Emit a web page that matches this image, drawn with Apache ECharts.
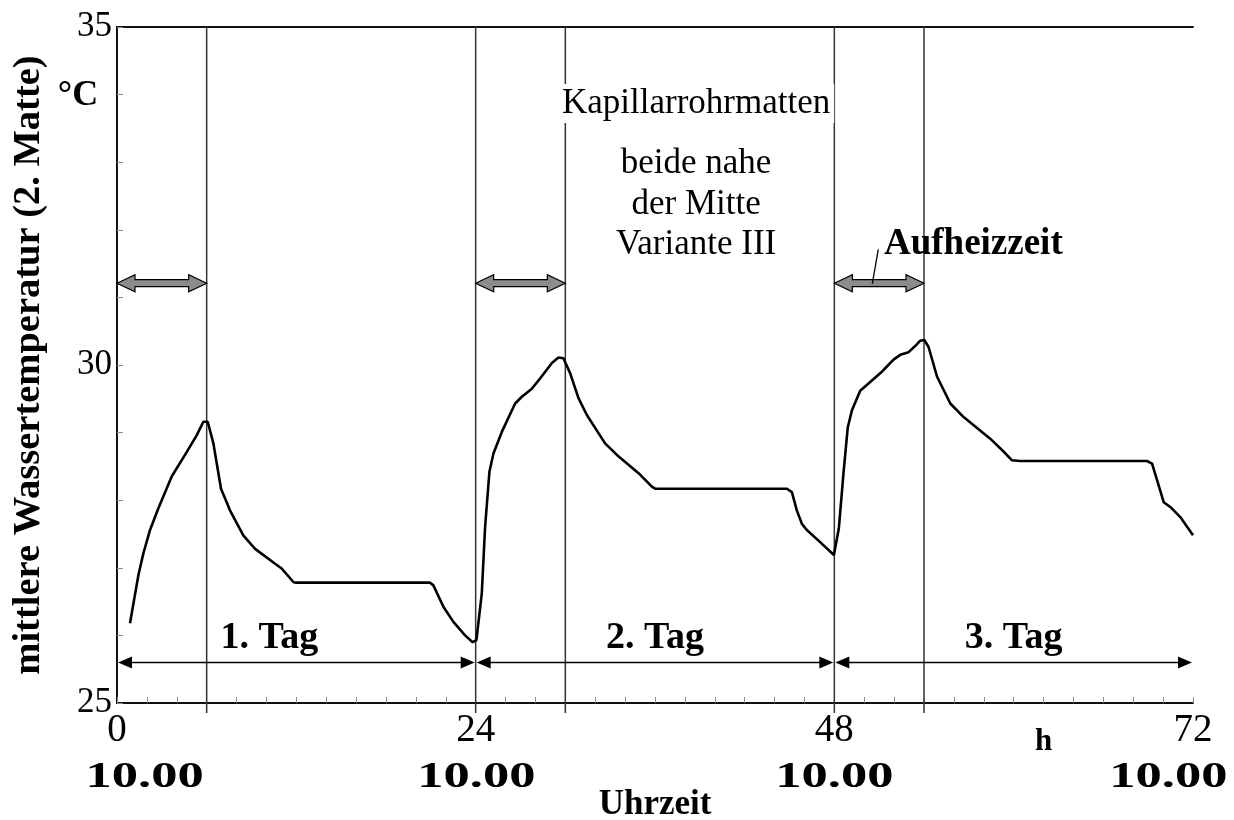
<!DOCTYPE html>
<html>
<head>
<meta charset="utf-8">
<script src="https://cdn.jsdelivr.net/npm/echarts@6/dist/echarts.min.js"></script>
<style>
  html, body { margin: 0; padding: 0; background: #fff; }
  #chart { width: 1234px; height: 820px; }
</style>
</head>
<body>
<div id="chart"></div>
<script>
// Mittlere Wassertemperatur der 2. Matte über drei Tage (Stunden ab 10.00 Uhr)
const hours = [
  0.87, 1.43, 1.76, 2.21, 2.77, 3.66, 4.55, 5.33, 5.78, 6.07, 6.45, 6.96, 7.56, 8.45, 9.24,
  10.58, 11.02, 11.8, 11.95, 20.95, 21.17, 21.85, 22.51, 23.29, 23.8, 24.05, 24.41, 24.63,
  24.92, 25.19, 25.75, 26.64, 27.09, 27.76, 28.31, 29.1, 29.54, 29.87, 30.32, 30.88, 31.44,
  32.66, 33.45, 34.9, 35.79, 36.01, 44.83, 45.16, 45.49, 45.83, 46.16, 47.05, 47.97, 48.3,
  48.62, 48.9, 49.18, 49.73, 50.4, 51.18, 51.96, 52.41, 52.97, 53.41, 53.75, 54.02, 54.3,
  54.87, 55.76, 56.65, 58.43, 59.32, 59.89, 60.44, 68.92, 69.26, 69.59, 70.04, 70.48,
  71.15, 72.0
];
const temps = [
  26.18, 26.89, 27.21, 27.56, 27.88, 28.35, 28.67, 28.96, 29.16, 29.16, 28.84, 28.17, 27.85, 27.48, 27.28,
  27.06, 26.99, 26.79, 26.78, 26.78, 26.74, 26.42, 26.2, 26.0, 25.9, 25.93, 26.62, 27.6,
  28.42, 28.69, 29.01, 29.43, 29.53, 29.65, 29.8, 30.03, 30.11, 30.1, 29.88, 29.51, 29.26,
  28.84, 28.67, 28.4, 28.2, 28.17, 28.17, 28.12, 27.85, 27.65, 27.56, 27.38, 27.19, 27.58,
  28.42, 29.08, 29.33, 29.62, 29.75, 29.9, 30.08, 30.15, 30.19, 30.28, 30.36, 30.37, 30.27,
  29.83, 29.43, 29.23, 28.91, 28.72, 28.59, 28.58, 28.58, 28.54, 28.3, 27.97, 27.9,
  27.75, 27.48
];

// Achsen und Beschriftungen
const xTickLabels = [0, 24, 48, 72];
const yTickLabels = [25, 30, 35];
const clockLabels = ['10.00', '10.00', '10.00', '10.00'];
const clockHours = [1.85, 24.05, 48, 70.35];

// Markierungslinien, Aufheizzeiten und Tage
const markerHours = [6, 24, 30, 48, 54];
const heatStarts = [0, 24, 48];
const heatEnds = [6, 30, 54];
const heatLevel = 31.21;
const dayStarts = [0, 24, 48];
const dayEnds = [24, 48, 72];
const dayLevel = 25.6;
const dayNames = ['1. Tag', '2. Tag', '3. Tag'];
const dayNameHours = [10.2, 36.0, 60.0];
const dayNameLevel = 25.96;

const noteLines = ['Kapillarrohrmatten', 'beide nahe', 'der Mitte', 'Variante III'];
const noteHour = 38.75;
const noteLevels = [33.87, 32.97, 32.37, 31.78];

const SERIF = '"Liberation Serif", "DejaVu Serif", serif';

const chart = echarts.init(document.getElementById('chart'), null, { renderer: 'canvas' });

function doubleBlockArrow(params, api) {
  const a = api.coord([api.value(0), api.value(2)]);
  const b = api.coord([api.value(1), api.value(2)]);
  const y = a[1], x1 = a[0], x2 = b[0];
  const L = 18, H = 8.5, h = 3.5;
  return {
    type: 'polygon',
    shape: { points: [
      [x1, y], [x1 + L, y - H], [x1 + L, y - h], [x2 - L, y - h], [x2 - L, y - H],
      [x2, y], [x2 - L, y + H], [x2 - L, y + h], [x1 + L, y + h], [x1 + L, y + H]
    ] },
    style: { fill: '#8c8c8c', stroke: '#000', lineWidth: 1.2 }
  };
}

function doubleLineArrow(params, api) {
  const a = api.coord([api.value(0), api.value(2)]);
  const b = api.coord([api.value(1), api.value(2)]);
  const y = a[1], x1 = a[0] + 1, x2 = b[0] - 1;
  const L = 14, H = 6;
  return {
    type: 'group',
    children: [
      { type: 'line', shape: { x1: x1 + 4, y1: y, x2: x2 - 4, y2: y }, style: { stroke: '#000', lineWidth: 1.6 } },
      { type: 'polygon', shape: { points: [[x1, y], [x1 + L, y - H], [x1 + L, y + H]] }, style: { fill: '#000' } },
      { type: 'polygon', shape: { points: [[x2, y], [x2 - L, y - H], [x2 - L, y + H]] }, style: { fill: '#000' } }
    ]
  };
}

const option = {
  backgroundColor: '#fff',
  animation: false,
  grid: { left: 117, right: 41, top: 27, bottom: 117, containLabel: false, outerBoundsMode: 'none' },
  xAxis: [
    {
      type: 'value', min: 0, max: 72, interval: 2,
      axisLine: { lineStyle: { color: '#111', width: 2 } },
      axisTick: { inside: true, length: 6, lineStyle: { color: '#888', width: 1 } },
      axisLabel: {
        color: '#000', fontFamily: SERIF, fontSize: 39, margin: 8,
        formatter: v => (xTickLabels.indexOf(v) >= 0 ? String(v) : '')
      },
      splitLine: { show: false },
      name: 'Uhrzeit', nameLocation: 'middle', nameGap: 84,
      nameTextStyle: { color: '#000', fontFamily: SERIF, fontWeight: 'bold', fontSize: 35 }
    },
    {
      type: 'value', min: 0, max: 72, position: 'top',
      axisLine: { show: true, lineStyle: { color: '#111', width: 2 } },
      axisTick: { show: false }, axisLabel: { show: false }, splitLine: { show: false }
    }
  ],
  yAxis: [
    {
      type: 'value', min: 25, max: 35, interval: 1,
      axisLine: { show: true, lineStyle: { color: '#111', width: 2 } },
      axisTick: { show: true, inside: true, length: 6, lineStyle: { color: '#888', width: 1 } },
      axisLabel: {
        color: '#000', fontFamily: SERIF, fontSize: 35, margin: 5,
        formatter: v => (yTickLabels.indexOf(v) >= 0 ? String(v) : '')
      },
      splitLine: { show: false },
      name: 'mittlere Wassertemperatur (2. Matte)', nameLocation: 'middle', nameGap: 68,
      nameTextStyle: { color: '#000', fontFamily: SERIF, fontWeight: 'bold', fontSize: 38.5 }
    },
    {
      type: 'value', min: 25, max: 35, position: 'right',
      axisLine: { show: true, lineStyle: { color: '#111', width: 2 } },
      axisTick: { show: false }, axisLabel: { show: false }, splitLine: { show: false }
    }
  ],
  series: [
    {
      // senkrechte Linien bei Aufheizbeginn/-ende, etwas unter die Achse verlängert
      type: 'custom', clip: false, silent: true,
      data: markerHours.map(h => [h]),
      renderItem: (params, api) => {
        const top = api.coord([api.value(0), 35]);
        const bot = api.coord([api.value(0), 25]);
        return {
          type: 'line',
          shape: { x1: top[0], y1: top[1], x2: bot[0], y2: bot[1] + 10 },
          style: { stroke: '#333', lineWidth: 1.5 }
        };
      },
      z: 1
    },
    {
      type: 'custom', clip: false, silent: true,
      data: heatStarts.map((s, i) => [s, heatEnds[i], heatLevel]),
      renderItem: doubleBlockArrow, z: 3
    },
    {
      type: 'custom', clip: false, silent: true,
      data: dayStarts.map((s, i) => [s, dayEnds[i], dayLevel]),
      renderItem: doubleLineArrow, z: 3
    },
    {
      type: 'line', symbol: 'none', smooth: false,
      data: hours.map((h, i) => [h, temps[i]]),
      lineStyle: { color: '#000', width: 2.6 },
      z: 4
    }
  ]
};

chart.setOption(option);

// Textanmerkungen an Datenpositionen verankern
const px = (x, y) => chart.convertToPixel({ gridIndex: 0 }, [x, y]);
const graphics = [];

noteLines.forEach((t, i) => {
  const p = px(noteHour, noteLevels[i]);
  graphics.push({
    type: 'text', x: p[0], y: p[1], z: 10,
    style: {
      text: t, fontFamily: SERIF, fontSize: 35, fill: '#000',
      align: 'center', verticalAlign: 'middle',
      backgroundColor: i === 0 ? '#fff' : null, padding: i === 0 ? [2, 4] : 0
    }
  });
});

dayNames.forEach((t, i) => {
  const p = px(dayNameHours[i], dayNameLevel);
  graphics.push({
    type: 'text', x: p[0], y: p[1], z: 10,
    style: { text: t, fontFamily: SERIF, fontSize: 38, fontWeight: 'bold', fill: '#000', align: 'center', verticalAlign: 'middle' }
  });
});

// Aufheizzeit mit Hinweislinie zum dritten Pfeil
const aText = px(57.3, 31.78);
graphics.push({
  type: 'text', x: aText[0], y: aText[1], z: 10,
  style: { text: 'Aufheizzeit', fontFamily: SERIF, fontSize: 37, fontWeight: 'bold', fill: '#000', align: 'center', verticalAlign: 'middle' }
});
const lA = px(50.94, 31.71), lB = px(50.54, 31.2);
graphics.push({
  type: 'line', z: 9,
  shape: { x1: lA[0], y1: lA[1], x2: lB[0], y2: lB[1] },
  style: { stroke: '#000', lineWidth: 1.3 }
});

// Einheit der y-Achse
const unit = px(0, 34);
graphics.push({
  type: 'text', x: unit[0] - 39, y: unit[1] + 1, z: 10,
  style: { text: '°C', fontFamily: SERIF, fontSize: 36, fontWeight: 'bold', fill: '#000', align: 'center', verticalAlign: 'middle' }
});

// Einheit der x-Achse
const hPos = px(62, 25);
graphics.push({
  type: 'text', x: hPos[0], y: hPos[1] + 39, z: 10,
  style: { text: 'h', fontFamily: SERIF, fontSize: 31, fontWeight: 'bold', fill: '#000', align: 'center', verticalAlign: 'middle' }
});

// Uhrzeit unter den Tagesgrenzen (breit gesetzt)
clockLabels.forEach((t, i) => {
  const p = px(clockHours[i], 25);
  graphics.push({
    type: 'text', x: p[0], y: p[1] + 75, z: 10, scaleX: 1.5, originX: 0, originY: 0,
    style: { text: t, fontFamily: SERIF, fontSize: 35, fontWeight: 'bold', fill: '#000', align: 'center', verticalAlign: 'middle' }
  });
});

chart.setOption({ graphic: graphics });
</script>
</body>
</html>
